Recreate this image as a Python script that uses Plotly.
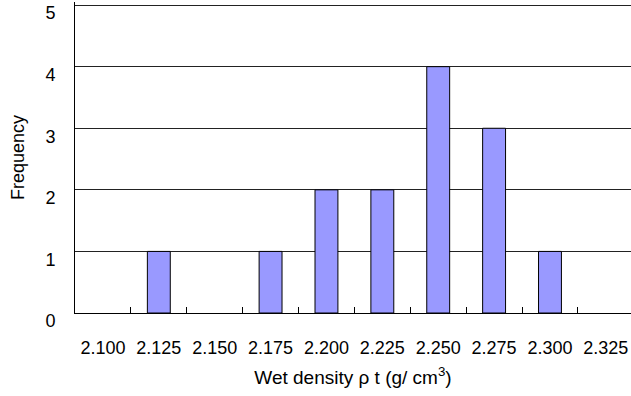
import plotly.graph_objects as go

categories = ["2.100", "2.125", "2.150", "2.175", "2.200", "2.225", "2.250", "2.275", "2.300", "2.325"]
frequency = [0, 1, 0, 1, 2, 2, 4, 3, 1, 0]
y_ticks = [0, 1, 2, 3, 4, 5]

FONT = "Liberation Sans, Arial, sans-serif"

fig = go.Figure(
    go.Bar(
        x=categories,
        y=frequency,
        marker=dict(
            color="#9999FF",
            line=dict(color="#000000", width=[1 if v else 0 for v in frequency]),
        ),
        width=0.41,
    )
)

fig.update_layout(
    width=631,
    height=396,
    margin=dict(l=75, r=0, t=2, b=83),
    paper_bgcolor="white",
    plot_bgcolor="white",
    font=dict(family=FONT, size=18, color="#000000"),
    showlegend=False,
)

fig.update_xaxes(
    type="category",
    range=[-0.5, 9.45],
    showline=True,
    linecolor="#000000",
    linewidth=1,
    ticks="inside",
    tickson="boundaries",
    ticklen=6,
    tickcolor="#000000",
    ticklabelstandoff=18,
    showgrid=False,
    title=dict(text="Wet density ρ t (g/ cm<sup>3</sup>)", font=dict(size=19), standoff=14),
)

fig.update_yaxes(
    range=[0, 5.05],
    tickvals=y_ticks,
    showline=True,
    linecolor="#000000",
    linewidth=1,
    showgrid=True,
    gridcolor="#222222",
    gridwidth=1,
    zeroline=False,
    ticks="",
    ticklabelstandoff=15,
    ticklabelshift=8,
    ticklabeloverflow="allow",
    title=dict(text="Frequency", font=dict(size=18), standoff=16),
)

fig.write_html("out.html")
